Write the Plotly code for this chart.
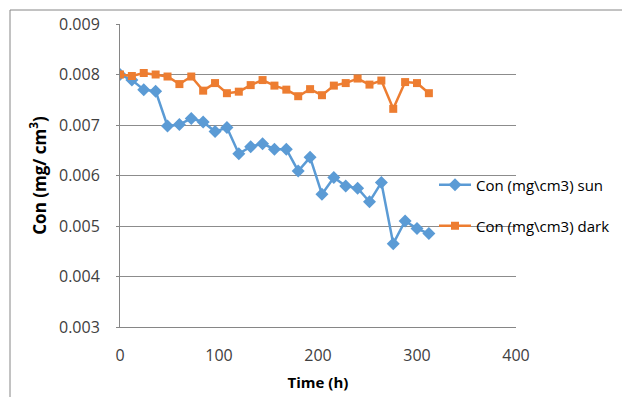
import plotly.graph_objects as go

time_h = [0, 12, 24, 36, 48, 60, 72, 84, 96, 108, 120, 132, 144, 156, 168, 180,
          192, 204, 216, 228, 240, 252, 264, 276, 288, 300, 312]
con_sun = [0.00800, 0.00789, 0.00770, 0.00767, 0.00698, 0.00701, 0.00713, 0.00706,
           0.00687, 0.00695, 0.00643, 0.00657, 0.00663, 0.00652, 0.00652, 0.00609,
           0.00636, 0.00563, 0.00596, 0.00579, 0.00575, 0.00548, 0.00586, 0.00465,
           0.00510, 0.00495, 0.00485]
con_dark = [0.00800, 0.00797, 0.00803, 0.00800, 0.00796, 0.00781, 0.00796, 0.00768,
            0.00783, 0.00763, 0.00766, 0.00779, 0.00789, 0.00778, 0.00770, 0.00757,
            0.00771, 0.00759, 0.00778, 0.00783, 0.00792, 0.00780, 0.00788, 0.00732,
            0.00785, 0.00783, 0.00763]

W, H = 622, 397
ML, MR, MT, MB = 120, 106, 24, 70

fig = go.Figure()
fig.add_trace(go.Scatter(
    x=time_h, y=con_sun, mode="lines+markers", name="Con (mg\\cm3) sun",
    line=dict(color="#5B9BD5", width=2.5),
    marker=dict(symbol="diamond", size=10, color="#5B9BD5"),
    legend="legend"))
fig.add_trace(go.Scatter(
    x=time_h, y=con_dark, mode="lines+markers", name="Con (mg\\cm3) dark",
    line=dict(color="#ED7D31", width=2.5),
    marker=dict(symbol="square", size=8, color="#ED7D31"),
    legend="legend2"))

pw = W - ML - MR
ph = H - MT - MB
def px_x(x):
    return (x - ML) / pw
def px_y(y):
    return 1 - (y - MT) / ph

font = dict(family="Open Sans, sans-serif", size=14, color="#404040")

fig.update_layout(
    width=W, height=H,
    margin=dict(l=ML, r=MR, t=MT, b=MB, autoexpand=False),
    paper_bgcolor="white", plot_bgcolor="white",
    font=font,
    xaxis=dict(range=[0, 400], dtick=100, tick0=0, showgrid=False,
               showline=True, linecolor="#868686", linewidth=1,
               ticks="", zeroline=False, ticklabelstandoff=14,
               automargin=False,
               tickfont=dict(size=16, color="#404040"),
               title=dict(text="<b>Time (h)</b>", standoff=12,
                          font=dict(size=15, color="#000000"))),
    yaxis=dict(range=[0.003, 0.009], dtick=0.001, tick0=0.003, tickformat=".3f",
               showgrid=True, gridcolor="#8c8c8c", gridwidth=1,
               showline=True, linecolor="#868686", linewidth=1,
               ticks="outside", ticklen=3, tickcolor="#868686",
               zeroline=False, ticklabelstandoff=13, automargin=False,
               tickfont=dict(size=16, color="#404040"),
               title=dict(text="<b>Con (mg/ cm<sup>3</sup>)</b>", standoff=8,
                          font=dict(size=17, color="#000000"))),
    legend=dict(x=px_x(434), y=px_y(185), xanchor="left", yanchor="middle",
                bgcolor="rgba(0,0,0,0)", font=dict(size=15, color="#000000"),
                itemwidth=32),
    legend2=dict(x=px_x(434), y=px_y(226), xanchor="left", yanchor="middle",
                 bgcolor="rgba(0,0,0,0)", font=dict(size=15, color="#000000"),
                 itemwidth=32),
    showlegend=True,
)

# outer chart border (left and top visible)
fig.add_shape(type="line", xref="paper", yref="paper",
              x0=px_x(10), x1=px_x(W + 5), y0=px_y(10), y1=px_y(10),
              line=dict(color="#868686", width=1))
fig.add_shape(type="line", xref="paper", yref="paper",
              x0=px_x(10), x1=px_x(10), y0=px_y(10), y1=px_y(H + 5),
              line=dict(color="#868686", width=1))

fig.write_html("out.html")
